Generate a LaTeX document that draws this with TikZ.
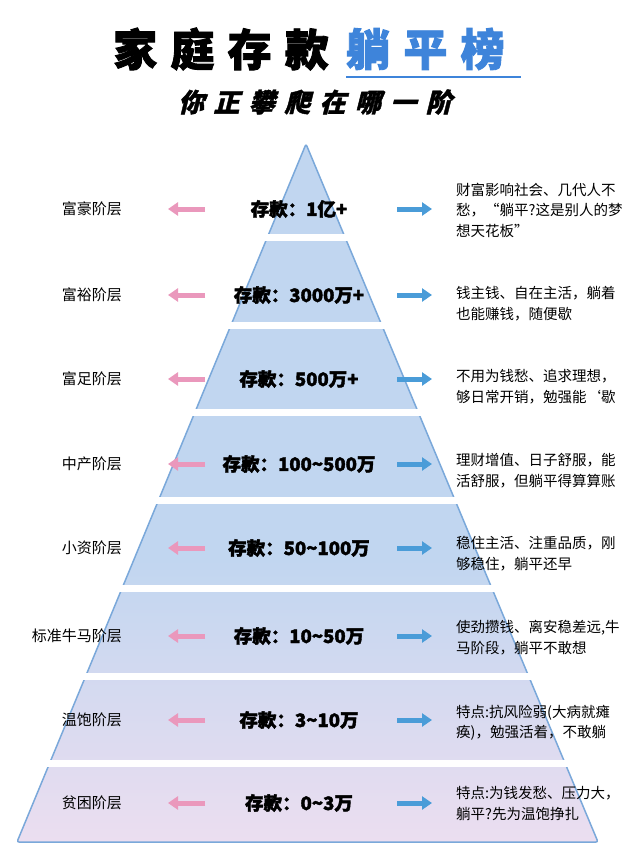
\documentclass[tikz,border=0pt]{standalone}
\usepackage{fontspec}
\setmainfont{Noto Sans CJK SC}
\newfontfamily\titlefont{Noto Sans CJK SC}[BoldFeatures={FakeBold=2}]
\newfontfamily\slantfont{Noto Sans CJK SC}[FakeSlant=0.25, BoldFeatures={FakeSlant=0.25, FakeBold=1.5}]
\usetikzlibrary{arrows.meta}

\definecolor{titleblue}{RGB}{62,132,218}
\definecolor{pyrblue}{RGB}{193,214,240}
\definecolor{pyrpink}{RGB}{236,222,240}
\definecolor{pyredge}{RGB}{122,168,218}
\definecolor{arrpink}{RGB}{234,152,188}
\definecolor{arrblue}{RGB}{74,156,216}

\begin{document}
\begin{tikzpicture}[x=1pt, y=-1pt,
  tierlabel/.style={anchor=east, inner sep=0, font=\fontsize{15}{15}\selectfont},
  tiervalue/.style={inner sep=0, font=\titlefont\bfseries\fontsize{18.5}{18.5}\selectfont},
  tiernote/.style={anchor=north west, inner sep=0, align=left, font=\fontsize{14.5}{20.5}\selectfont},
  pinkarr/.style={draw=arrpink, line width=5pt, -{Triangle[length=10pt, width=13pt]}},
  bluearr/.style={draw=arrblue, line width=5pt, -{Triangle[length=10pt, width=13pt]}}]

  % canvas
  \fill[white] (0,0) rectangle (640,854);

  % Title and subtitle
  \node[anchor=west, inner sep=0, font=\titlefont\bfseries\fontsize{44}{44}\selectfont\addfontfeature{LetterSpace=30}] (title) at (113,49) {家庭存款};
  \node[anchor=west, inner sep=0, text=titleblue, font=\titlefont\bfseries\fontsize{44}{44}\selectfont\addfontfeature{LetterSpace=30}] (titlehl) at (346,49) {躺平榜};
  \draw[titleblue, line width=2pt] (346,77) -- (521,77);
  \node[anchor=west, inner sep=0, font=\slantfont\bfseries\fontsize{26}{26}\selectfont\addfontfeature{LetterSpace=36}] (subtitle) at (178,102) {你正攀爬在哪一阶};

  % Pyramid body
  \coordinate (apex) at (306,144);
  \coordinate (bl) at (17,842);
  \coordinate (br) at (598,842);
  \begin{scope}
    \clip (apex) -- (br) -- (bl) -- cycle;
    \fill[pyrblue] (0,140) rectangle (640,560);
    \shade[top color=pyrblue, bottom color=pyrpink] (0,559) rectangle (640,846);
  \end{scope}
  \draw[pyredge, line width=1.5pt, rounded corners=2pt, line join=round] (apex) -- (br) -- (bl) -- cycle;

  % white gaps between the tiers
  \foreach \g in {234,322,409,497,585,673,760}
    \fill[white] (0,\g) rectangle (640,\g+7);

  % Tiers: label, deposit, arrows
  \foreach \y/\lab/\val [count=\i] in {
      209/富豪阶层/{存款：1亿+},
      295/富裕阶层/{存款：3000万+},
      379/富足阶层/{存款：500万+},
      464/中产阶层/{存款：100\textasciitilde 500万},
      548/小资阶层/{存款：50\textasciitilde 100万},
      636/标准牛马阶层/{存款：10\textasciitilde 50万},
      720/温饱阶层/{存款：3\textasciitilde 10万},
      803/贫困阶层/{存款：0\textasciitilde 3万}} {
    \node[tierlabel] (lab\i) at (122,\y) {\lab};
    \node[tiervalue] (val\i) at (299,\y) {\val};
    \coordinate (pa\i) at (205,\y);
    \coordinate (pb\i) at (168,\y);
    \draw[pinkarr] (pa\i) -- (pb\i);
    \coordinate (ba\i) at (397,\y);
    \coordinate (bb\i) at (432,\y);
    \draw[bluearr] (ba\i) -- (bb\i);
  }

  % Tier notes on the right
  \node[tiernote] (note1) at (456,182.5) {财富影响社会、几代人不\\愁，“躺平?这是别人的梦\\想天花板”};
  \node[tiernote] (note2) at (456,286.5) {钱主钱、自在主活，躺着\\也能赚钱，随便歇};
  \node[tiernote] (note3) at (456,369.5) {不用为钱愁、追求理想，\\够日常开销，勉强能‘歇};
  \node[tiernote] (note4) at (456,453.5) {理财增值、日子舒服，能\\活舒服，但躺平得算算账};
  \node[tiernote] (note5) at (456,536.5) {稳住主活、注重品质，刚\\够稳住，躺平还早};
  \node[tiernote] (note6) at (456,620.5) {使劲攒钱、离安稳差远,牛\\马阶段，躺平不敢想};
  \node[tiernote] (note7) at (456,704.5) {特点:抗风险弱(大病就瘫\\痪)，勉强活着，不敢躺};
  \node[tiernote] (note8) at (456,786.5) {特点:为钱发愁、压力大，\\躺平?先为温饱挣扎};
\end{tikzpicture}
\end{document}
